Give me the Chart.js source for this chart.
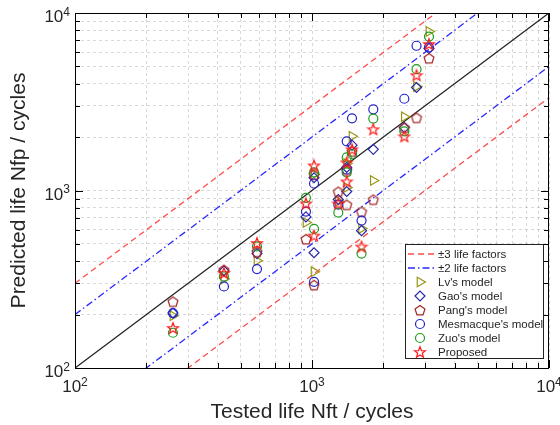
<!DOCTYPE html>
<html>
<head>
<meta charset="utf-8">
<script src="https://cdn.jsdelivr.net/npm/chart.js@4.4.1/dist/chart.umd.min.js"></script>
<style>
  body { margin: 0; background: #fff; }
  canvas { display: block; }
</style>
</head>
<body>
<canvas id="myChart" width="560" height="425"></canvas>
<script>
// tested fatigue lives (cycles), shared by every model
const testedLife = [259, 425, 586, 943, 1020, 1020, 1291, 1401, 1401, 1475, 1618, 1814, 2452, 2761, 3116];

// predicted lives for each model, same order as testedLife
const lvModel   = [197, 317, 402, 660, 1230, 349, 870, 1420, 1040, 2019, 610, 1139, 2602, 3850, 7862];
const gaoModel  = [204, 353, 441, 710, 1180, 446, 890, 1349, 987, 1800, 594, 1705, 2261, 3804, 6319];
const pangModel = [237, 358, 452, 533, 1230, 294, 987, 1300, 833, 1661, 761, 890, 2261, 2575, 5569];
const mesModel  = [204, 288, 361, 761, 1095, 306, 833, 1892, 1314, 2552, 677, 2868, 3288, 6537, 6400];
const zuoModel  = [158, 328, 484, 909, 1264, 608, 751, 1536, 1264, 1600, 441, 2542, 2154, 4827, 7366];
const proposed  = [168, 343, 506, 845, 1384, 557, 845, 1440, 1124, 1705, 483, 2212, 2019, 4463, 6683];

const lifeFactors = [3, 2];
const axisRange = [100, 10000];
const gridTicks = [100, 200, 300, 400, 500, 600, 700, 800, 900,
                   1000, 2000, 3000, 4000, 5000, 6000, 7000, 8000, 9000, 10000];
const decadeTicks = [100, 1000, 10000];

const FONT = '"Liberation Sans", Arial, Helvetica, sans-serif';
const TXT = '#262626';

function pts(ys) {
  return testedLife.map((x, i) => ({x: x, y: ys[i]}));
}

// custom marker canvases for shapes Chart.js does not have
function makeMarker(color, pathFn) {
  const c = document.createElement('canvas');
  c.width = 14; c.height = 14;
  const g = c.getContext('2d');
  g.strokeStyle = color;
  g.lineWidth = 1.2;
  g.beginPath();
  pathFn(g, 7, 7);
  g.closePath();
  g.stroke();
  return c;
}
function pentagon(g, cx, cy) {
  const r = 5.2;
  for (let i = 0; i < 5; i++) {
    const a = -Math.PI / 2 + i * 2 * Math.PI / 5;
    const px = cx + r * Math.cos(a), py = cy + 0.6 + r * Math.sin(a);
    if (i) g.lineTo(px, py); else g.moveTo(px, py);
  }
}
function star(g, cx, cy) {
  for (let i = 0; i < 10; i++) {
    const r = i % 2 ? 2.4 : 5.8;
    const a = -Math.PI / 2 + i * Math.PI / 5;
    const px = cx + r * Math.cos(a), py = cy + 0.5 + r * Math.sin(a);
    if (i) g.lineTo(px, py); else g.moveTo(px, py);
  }
}

const redLine = 'rgb(255,75,75)';
const blueLine = 'rgb(40,40,255)';
const redDash = [6, 4];
const blueDash = [7, 3, 1.5, 3];

const models = [
  {label: "Lv's model", data: lvModel, color: 'rgb(150,150,20)', style: 'triangle', rot: 90, r: 5.5},
  {label: "Gao's model", data: gaoModel, color: 'rgb(40,40,165)', style: 'rectRot', rot: 0, r: 5},
  {label: "Pang's model", data: pangModel, color: 'rgb(165,40,40)', style: null, rot: 0, r: 5},
  {label: "Mesmacque's model", data: mesModel, color: 'rgb(35,35,205)', style: 'circle', rot: 0, r: 4.5},
  {label: "Zuo's model", data: zuoModel, color: 'rgb(25,160,25)', style: 'circle', rot: 0, r: 4.5},
  {label: 'Proposed', data: proposed, color: 'rgb(255,25,25)', style: null, rot: 0, r: 5}
];
models[2].style = makeMarker(models[2].color, pentagon);
models[5].style = makeMarker(models[5].color, star);

const datasets = [];
models.forEach((m, i) => {
  datasets.push({
    label: m.label,
    data: pts(m.data),
    showLine: false,
    pointStyle: m.style,
    rotation: m.rot,
    pointRadius: m.r,
    borderColor: m.color,
    backgroundColor: 'rgba(0,0,0,0)',
    borderWidth: 1.2,
    order: models.length - i
  });
});

function lineSet(factor, color, dash) {
  return {
    type: 'line',
    data: axisRange.map(v => ({x: v, y: v * factor})),
    borderColor: color,
    borderWidth: 1.3,
    borderDash: dash,
    pointRadius: 0,
    fill: false,
    order: 20
  };
}
datasets.push(lineSet(1, '#222', []));
lifeFactors.forEach(f => {
  const c = f === 3 ? redLine : blueLine;
  const d = f === 3 ? redDash : blueDash;
  datasets.push(lineSet(f, c, d));
  datasets.push(lineSet(1 / f, c, d));
});

function drawPow(ctx, v, x, base, align) {
  const exp = String(Math.round(Math.log10(v)));
  ctx.font = '17px ' + FONT;
  const w1 = ctx.measureText('10').width;
  ctx.font = '12px ' + FONT;
  const w2 = ctx.measureText(exp).width;
  const left = align === 'center' ? x - (w1 + w2) / 2 : x - (w1 + w2);
  ctx.textAlign = 'left';
  ctx.textBaseline = 'alphabetic';
  ctx.font = '17px ' + FONT;
  ctx.fillText('10', left, base);
  ctx.font = '12px ' + FONT;
  ctx.fillText(exp, left + w1, base - 6.5);
}

const framePlugin = {
  id: 'frame',
  afterDatasetsDraw(chart) {
    const {ctx, chartArea: a, scales: {x, y}} = chart;
    ctx.save();
    ctx.strokeStyle = '#000';
    ctx.lineWidth = 1;
    ctx.strokeRect(a.left + 0.5, a.top + 0.5, a.right - a.left - 1, a.bottom - a.top);
    ctx.beginPath();
    gridTicks.forEach(v => {
      const len = decadeTicks.includes(v) ? 8 : 5;
      const px = Math.round(x.getPixelForValue(v)) + 0.5;
      const py = Math.round(y.getPixelForValue(v)) + 0.5;
      ctx.moveTo(px, a.bottom); ctx.lineTo(px, a.bottom - len);
      ctx.moveTo(px, a.top); ctx.lineTo(px, a.top + len);
      ctx.moveTo(a.left, py); ctx.lineTo(a.left + len, py);
      ctx.moveTo(a.right, py); ctx.lineTo(a.right - len, py);
    });
    ctx.stroke();

    ctx.fillStyle = TXT;
    decadeTicks.forEach(v => {
      drawPow(ctx, v, x.getPixelForValue(v), a.bottom + 24, 'center');
      drawPow(ctx, v, a.left - 5, y.getPixelForValue(v) + 9, 'right');
    });

    // legend box inside the plot
    const bx = 405, by = 244, bw = 138, bh = 114, row = 14;
    ctx.fillStyle = '#fff';
    ctx.fillRect(bx, by, bw, bh);
    ctx.strokeStyle = '#222';
    ctx.strokeRect(bx + 0.5, by + 0.5, bw, bh);
    const entries = [
      {text: '\u00b13 life factors', line: redLine, dash: redDash},
      {text: '\u00b12 life factors', line: blueLine, dash: blueDash}
    ].concat(models.map(m => ({text: m.label, model: m})));
    ctx.font = '11.5px ' + FONT;
    entries.forEach((e, i) => {
      const cy = by + 10 + i * row;
      if (e.line) {
        ctx.save();
        ctx.strokeStyle = e.line;
        ctx.lineWidth = 1.3;
        ctx.setLineDash(e.dash);
        ctx.beginPath();
        ctx.moveTo(bx + 3, cy); ctx.lineTo(bx + 29, cy);
        ctx.stroke();
        ctx.restore();
      } else {
        const m = e.model;
        ctx.save();
        ctx.strokeStyle = m.color;
        ctx.fillStyle = 'rgba(0,0,0,0)';
        ctx.lineWidth = 1.2;
        Chart.helpers.drawPoint(ctx, {pointStyle: m.style, rotation: m.rot, radius: m.r, borderWidth: 1.2}, bx + 15, cy);
        ctx.restore();
      }
      ctx.fillStyle = TXT;
      ctx.textAlign = 'left';
      ctx.textBaseline = 'middle';
      ctx.fillText(e.text, bx + 33, cy + 0.5);
    });
    ctx.restore();
  }
};

const gridOpts = {color: 'rgba(0,0,0,0.15)', lineWidth: 1, drawTicks: false, tickLength: 0};

new Chart(document.getElementById('myChart'), {
  type: 'scatter',
  data: {datasets: datasets},
  options: {
    responsive: false,
    animation: false,
    layout: {padding: {top: 13, right: 11, left: 0, bottom: 0}},
    plugins: {legend: {display: false}, tooltip: {enabled: false}},
    scales: {
      x: {
        type: 'logarithmic',
        min: axisRange[0], max: axisRange[1],
        grid: gridOpts,
        border: {display: false, dash: [3, 3]},
        ticks: {display: false, autoSkip: false},
        afterBuildTicks: s => { s.ticks = gridTicks.map(v => ({value: v})); },
        afterFit: s => { s.height = 57; s.paddingLeft = 0; s.paddingRight = 0; },
        title: {display: true, text: 'Tested life Nft / cycles', color: TXT,
                font: {family: FONT, size: 21}, padding: {top: 0, bottom: 0}}
      },
      y: {
        type: 'logarithmic',
        min: axisRange[0], max: axisRange[1],
        grid: gridOpts,
        border: {display: false, dash: [3, 3]},
        ticks: {display: false, autoSkip: false},
        afterBuildTicks: s => { s.ticks = gridTicks.map(v => ({value: v})); },
        afterFit: s => { s.width = 75; s.paddingTop = 0; s.paddingBottom = 0; },
        title: {display: true, text: 'Predicted life Nfp / cycles', color: TXT,
                font: {family: FONT, size: 21}, padding: {top: 7, bottom: 0}}
      }
    }
  },
  plugins: [framePlugin]
});
</script>
</body>
</html>
